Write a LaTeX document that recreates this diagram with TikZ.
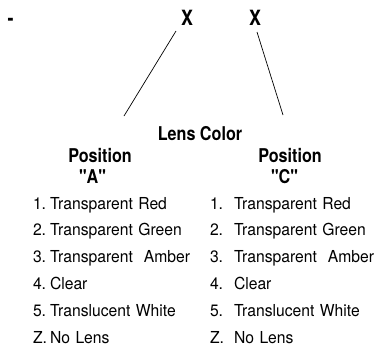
\documentclass[tikz,border=0pt]{standalone}
\usepackage{fontspec}
\setmainfont{TeX Gyre Heros}[FakeStretch=0.95]
\newfontfamily\condbold{TeX Gyre Heros}[FakeStretch=0.85]
\usepackage{tikz}

\begin{document}
\begin{tikzpicture}[x=1pt, y=-1pt, node distance=26.8pt]
    \tikzstyle{lenscode} = [inner sep=0pt, anchor=base, font=\condbold\bfseries\fontsize{21}{21}\selectfont]
    \tikzstyle{heading} = [inner sep=0pt, anchor=base, font=\condbold\bfseries\fontsize{19}{19}\selectfont]
    \tikzstyle{number} = [inner sep=0pt, text width=15pt, align=left, text height=12pt, text depth=3.5pt, font=\fontsize{16.5}{16.5}\selectfont]
    \tikzstyle{choice} = [inner sep=0pt, text width=150pt, align=left, text height=12pt, text depth=3.5pt, font=\fontsize{16.5}{16.5}\selectfont]
    \tikzstyle{lead} = [draw=black, line width=0.7pt]

    \useasboundingbox (0,0) rectangle (377,349);

    \node [lenscode] (dash) at (10.5,25) {-};
    \node [lenscode] (codea) at (187,25) {X};
    \node [lenscode] (codec) at (255,25) {X};

    \coordinate (a top) at (176,31);
    \coordinate (a foot) at (124,116);
    \coordinate (c top) at (257,32);
    \coordinate (c foot) at (283,115);
    \draw [lead] (a top) -- (a foot);
    \draw [lead] (c top) -- (c foot);

    % Headings
    \node [heading] (lenscolor) at (200,140) {Lens Color};
    \node [heading] (posa) at (100,162) {Position};
    \node [heading] (posc) at (290,162) {Position};
    \node [heading] (quota) at (92.5,183) {"A"};
    \node [heading] (quotc) at (284.5,183) {"C"};

    % Position A
    \node [number] (na1) at (40.5,204.75) {1.};
    \node [number, below of=na1] (na2) {2.};
    \node [number, below of=na2] (na3) {3.};
    \node [number, below of=na3] (na4) {4.};
    \node [number, below of=na4] (na5) {5.};
    \node [number, below of=na5] (na6) {Z.};
    \node [choice] (a1) at (125,204.75) {Transparent Red};
    \node [choice, below of=a1] (a2) {Transparent Green};
    \node [choice, below of=a2] (a3) {Transparent\ \ Amber};
    \node [choice, below of=a3] (a4) {Clear};
    \node [choice, below of=a4] (a5) {Translucent White};
    \node [choice, below of=a5] (a6) {No Lens};

    % Position C
    \node [number] (nc1) at (217.5,204.75) {1.};
    \node [number, below of=nc1] (nc2) {2.};
    \node [number, below of=nc2] (nc3) {3.};
    \node [number, below of=nc3] (nc4) {4.};
    \node [number, below of=nc4] (nc5) {5.};
    \node [number, below of=nc5] (nc6) {Z.};
    \node [choice] (c1) at (309,204.75) {Transparent Red};
    \node [choice, below of=c1] (c2) {Transparent Green};
    \node [choice, below of=c2] (c3) {Transparent\ \ Amber};
    \node [choice, below of=c3] (c4) {Clear};
    \node [choice, below of=c4] (c5) {Translucent White};
    \node [choice, below of=c5] (c6) {No Lens};
\end{tikzpicture}
\end{document}
